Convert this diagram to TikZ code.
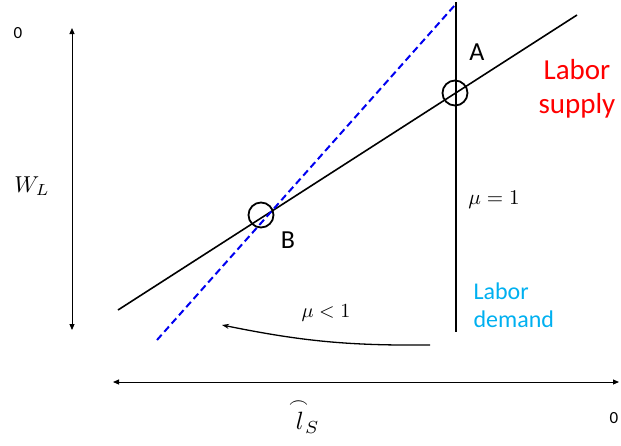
\documentclass[tikz,border=0pt]{standalone}
\usepackage{amsmath}
\usepackage{fontspec}
\setmainfont{Carlito}
\usetikzlibrary{arrows.meta}
\definecolor{supplyred}{RGB}{255,0,0}
\definecolor{demandcyan}{RGB}{0,176,240}
\definecolor{dashblue}{RGB}{0,0,240}
\tikzset{
  axis/.style={line width=1pt,{Triangle[length=6pt,width=5pt]}-{Triangle[length=6pt,width=5pt]}},
  curve/.style={black,line width=1.6pt},
  eqcircle/.style={circle,draw,line width=1.8pt,minimum size=25pt,inner sep=0pt},
  pointlabel/.style={font=\fontsize{26}{30}\selectfont},
  zerolabel/.style={font=\fontsize{17}{20}\selectfont}
}
\begin{document}
\begin{tikzpicture}[x=1pt,y=-1pt]
\useasboundingbox (0,0) rectangle (621,445);
% axes
\draw[axis] (72,330)--(72,28);
\draw[axis] (113,382)--(619,382);
\node[zerolabel] (zeroW) at (18,33){0};
\node[zerolabel] (zeroL) at (614,418){0};
\node (wage) at (32,186){\scalebox{2.3}{$W_L$}};
\node (lhat) at (304,416){\scalebox{2.5}{${\overset{\frown}{\mkern2mu l}}_{\!S}$}};
% curves
\draw[curve] (118,310)--(577,15);
\draw[curve] (456,2)--(456,332);
\draw[dashblue,line width=2pt,dash pattern=on 7pt off 4pt] (157,340)--(455,5);
% equilibria
\node[eqcircle] (ptA) at (455,93){};
\node[eqcircle] (ptB) at (261,215){};
\node[pointlabel] (labA) at (477,52){A};
\node[pointlabel] (labB) at (288,240){B};
% labels
\node[text=supplyred,align=center,font=\fontsize{29}{34}\selectfont] (supply) at (577,89){Labor\\supply};
\node[text=demandcyan,align=left,anchor=west,font=\fontsize{24}{28}\selectfont] (demand) at (470,305){Labor\\demand};
\node (muone) at (494,200){\scalebox{2.1}{$\mu=1$}};
\node (mulow) at (326,313){\scalebox{2}{$\mu<1$}};
\coordinate (shiftR) at (430,345);
\coordinate (shiftL) at (222,325);
\draw[line width=1.3pt,-{Stealth[length=7pt,width=5pt]}] (shiftR) to[bend left=6] (shiftL);
\end{tikzpicture}
\end{document}
